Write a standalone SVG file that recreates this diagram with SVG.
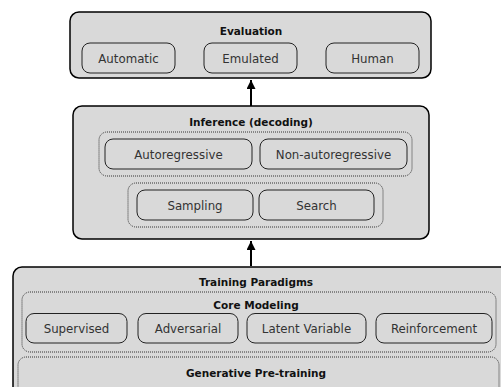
<svg xmlns="http://www.w3.org/2000/svg" width="501" height="387" viewBox="0 0 501 387">
<defs>
<style>
.main{fill:#d9d9d9;stroke:#000;stroke-width:1.5}
.sub{fill:#d9d9d9;stroke:#222;stroke-width:1}
.dot{fill:none;stroke:#333;stroke-width:1;stroke-dasharray:1 1}
.t{font-family:"DejaVu Sans",sans-serif;font-size:11.8px;fill:#333;text-anchor:middle}
.h{font-family:"DejaVu Sans",sans-serif;font-size:10.5px;font-weight:bold;fill:#111;text-anchor:middle}
.c{stroke:#000;stroke-width:2;fill:none}
</style>
<marker id="ah" viewBox="0 0 10 10" refX="10" refY="5" markerWidth="4.5" markerHeight="4.5" orient="auto" markerUnits="strokeWidth">
<path d="M0,0 L10,5 L0,10 z" fill="#000"/>
</marker>
</defs>
<rect width="501" height="387" fill="#fff"/>
<g id="training">
<rect class="main" x="13" y="267" width="500" height="130" rx="9"/>
<text class="h" x="256" y="285.5">Training Paradigms</text>
<g id="core">
<rect class="dot" x="22" y="292" width="474" height="60" rx="8"/>
<text class="h" x="256" y="309">Core Modeling</text>
<g id="supervised"><rect class="sub" x="26" y="313.5" width="101" height="29.5" rx="8"/><text class="t" x="76.5" y="333">Supervised</text></g>
<g id="adversarial"><rect class="sub" x="138" y="313.5" width="100" height="29.5" rx="8"/><text class="t" x="188" y="333">Adversarial</text></g>
<g id="latent"><rect class="sub" x="247" y="313.5" width="119" height="29.5" rx="8"/><text class="t" x="306.5" y="333">Latent Variable</text></g>
<g id="reinforcement"><rect class="sub" x="376" y="313.5" width="116" height="29.5" rx="8"/><text class="t" x="434" y="333">Reinforcement</text></g>
</g>
<g id="pretraining">
<rect class="dot" x="18" y="357" width="481" height="40" rx="8"/>
<text class="h" x="256" y="377">Generative Pre-training</text>
</g>
</g>
<g id="inference">
<rect class="main" x="73" y="106" width="356" height="133" rx="9"/>
<text class="h" x="251" y="126">Inference (decoding)</text>
<rect class="dot" x="99" y="132" width="313" height="44" rx="8"/>
<g id="autoregressive"><rect class="sub" x="105" y="139" width="147" height="30" rx="8"/><text class="t" x="178.5" y="159">Autoregressive</text></g>
<g id="nonautoregressive"><rect class="sub" x="260" y="139" width="147" height="30" rx="8"/><text class="t" x="333.5" y="159">Non-autoregressive</text></g>
<rect class="dot" x="128" y="183" width="255" height="44" rx="8"/>
<g id="sampling"><rect class="sub" x="137" y="190" width="116" height="30" rx="8"/><text class="t" x="195" y="210">Sampling</text></g>
<g id="search"><rect class="sub" x="259" y="190" width="115" height="30" rx="8"/><text class="t" x="316.5" y="210">Search</text></g>
</g>
<g id="evaluation">
<rect class="main" x="70" y="12" width="361" height="66" rx="9"/>
<text class="h" x="251" y="35">Evaluation</text>
<g id="automatic"><rect class="sub" x="82" y="43" width="93" height="30" rx="8"/><text class="t" x="128.5" y="63">Automatic</text></g>
<g id="emulated"><rect class="sub" x="204" y="43" width="93" height="30" rx="8"/><text class="t" x="250.5" y="63">Emulated</text></g>
<g id="human"><rect class="sub" x="326" y="43" width="93" height="30" rx="8"/><text class="t" x="372.5" y="63">Human</text></g>
</g>
<g id="connectors">
<line class="c" x1="251" y1="266" x2="251" y2="241" marker-end="url(#ah)"/>
<line class="c" x1="251" y1="106" x2="251" y2="80" marker-end="url(#ah)"/>
</g>
</svg>
